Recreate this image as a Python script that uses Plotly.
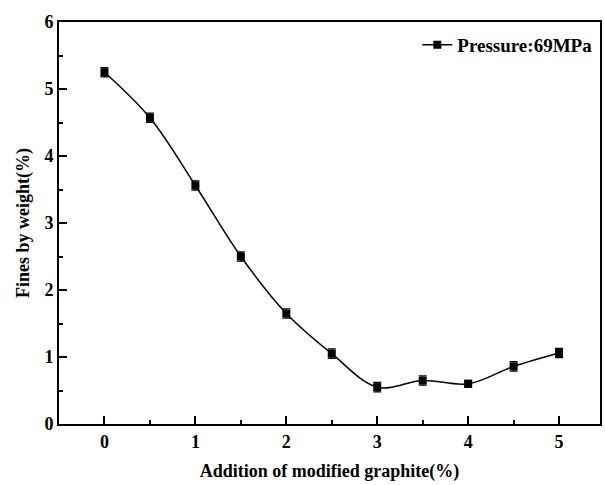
import plotly.graph_objects as go

x_vals = [0, 0.5, 1, 1.5, 2, 2.5, 3, 3.5, 4, 4.5, 5]
fines = [5.25, 4.57, 3.56, 2.50, 1.65, 1.05, 0.55, 0.65, 0.60, 0.86, 1.06]
errors = [0.07, 0.07, 0.07, 0.07, 0.07, 0.07, 0.07, 0.07, 0.05, 0.07, 0.07]
series_name = "Pressure:69MPa"
x_title = "Addition of modified graphite(%)"
y_title = "Fines by weight(%)"

font_family = "Liberation Serif, Times New Roman, serif"

fig = go.Figure()
fig.add_trace(go.Scatter(
    x=x_vals, y=fines, name=series_name, mode="lines+markers",
    line=dict(color="black", width=1.5, shape="spline", smoothing=1.0),
    marker=dict(symbol="square", size=8, color="black"),
    error_y=dict(type="data", array=errors, visible=True, color="black", thickness=1.2, width=4),
))

fig.update_layout(
    width=605, height=485,
    margin=dict(l=59, r=3, t=22, b=61),
    plot_bgcolor="white", paper_bgcolor="white",
    font=dict(family=font_family, color="black", size=18),
    showlegend=True,
    legend=dict(x=0.995, y=0.99, xanchor="right", yanchor="top",
                bgcolor="rgba(0,0,0,0)",
                font=dict(size=19, family=font_family, weight="bold"),
                itemwidth=30),
    xaxis=dict(
        range=[-0.5, 5.45], tickvals=[0, 1, 2, 3, 4, 5],
        ticks="inside", ticklen=8, tickwidth=1.5, tickcolor="black",
        minor=dict(ticks="inside", dtick=0.5, tick0=0, ticklen=4, tickwidth=1.5, tickcolor="black"),
        showline=True, linecolor="black", linewidth=2, mirror=True,
        showgrid=False, zeroline=False,
        tickfont=dict(size=18, family=font_family, weight="bold"),
        title=dict(text="<b>" + x_title + "</b>", font=dict(size=18, family=font_family), standoff=14),
    ),
    yaxis=dict(
        range=[0, 6], tickvals=[0, 1, 2, 3, 4, 5, 6],
        ticks="inside", ticklen=8, tickwidth=1.5, tickcolor="black",
        minor=dict(ticks="inside", dtick=0.5, tick0=0, ticklen=4, tickwidth=1.5, tickcolor="black"),
        showline=True, linecolor="black", linewidth=2, mirror=True,
        showgrid=False, zeroline=False,
        tickfont=dict(size=18, family=font_family, weight="bold"),
        title=dict(text="<b>" + y_title + "</b>", font=dict(size=18, family=font_family), standoff=10),
    ),
)

fig.write_html("out.html", config={"displayModeBar": False})

with open("out.html", "r", encoding="utf-8") as f:
    html = f.read()
html = html.replace("<body>", "<body style=\"margin:0;padding:0;overflow:hidden;\">", 1)
with open("out.html", "w", encoding="utf-8") as f:
    f.write(html)
